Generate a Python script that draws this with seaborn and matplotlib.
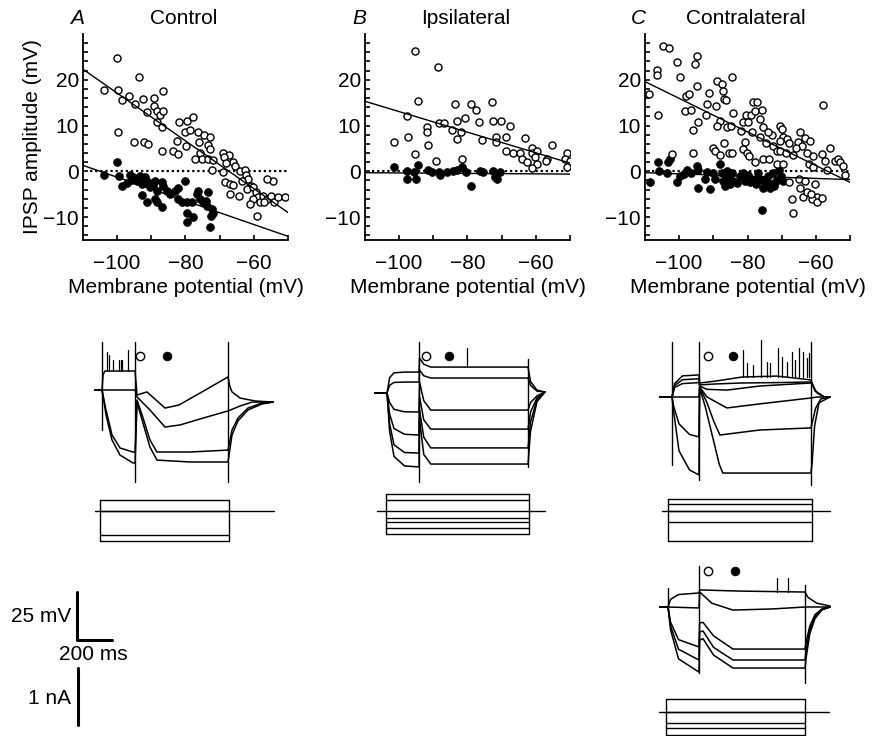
import numpy as np
import pandas as pd
import matplotlib
matplotlib.use("Agg")
import matplotlib.pyplot as plt
import seaborn as sns

# ---- scatter data: IPSP amplitude vs membrane potential ----
ctrl_open_x = [-100, -103.9, -99.8, -98.6, -96.5, -93.6, -94.8, -92.4, -91.3, -89.2, -89.2, -88.4, -87.5,
               -86.6, -86.6, -88.4, -86.9, -99.8, -95.1, -92.2, -91.0, -86.9, -81.9, -79.6, -77.8, -80.2,
               -78.7, -82.5, -79.9, -83.7, -82.2, -76.4, -74.6, -72.9, -76.1, -73.4, -72.9, -75.8, -75.2,
               -77.2, -73.4, -72.0, -72.3, -69.1, -67.3, -68.8, -66.1, -68.2, -65.5, -64.1, -62.6, -69.1,
               -68.5, -67.0, -66.1, -67.0, -64.4, -62.3, -61.7, -60.9, -63.5, -62.0, -60.3, -59.4, -58.8,
               -60.3, -58.2, -61.2, -57.4, -56.2, -55.0, -54.2, -54.5, -56.2, -53.0, -50.9, -59.1, -57.0]
ctrl_open_y = [24.7, 17.7, 17.7, 15.5, 16.4, 20.5, 14.8, 15.9, 12.9, 16.1, 14.2, 13.1, 12.4,
               17.5, 13.1, 10.7, 9.6, 8.5, 6.3, 6.3, 5.9, 4.4, 10.7, 10.9, 11.8, 8.5,
               9.0, 6.6, 5.5, 4.4, 3.7, 8.5, 7.9, 7.6, 6.3, 5.7, 4.8, 3.9, 2.8,
               2.8, 2.6, 2.4, 0.2, 3.9, 3.5, 3.1, 2.0, 1.8, 1.1, 0.0, 0.4, -0.2,
               -2.4, -2.8, -3.0, -5.0, -5.4, -0.7, -1.7, -3.2, -2.1, -3.9, -3.5, -4.6, -5.7,
               -6.1, -6.8, -7.2, -5.4, -6.1, -5.4, -6.6, -2.1, -1.6, -5.7, -5.7, -9.8, -6.6]
ctrl_fill_x = [-103.9, -100, -99.5, -98.6, -96.3, -95.4, -94.2, -93.3, -91.9, -92.7, -91.0, -92.7, -91.3,
               -90.4, -88.9, -88.4, -86.9, -86.6, -88.9, -88.4, -86.9, -85.4, -83.1, -82.2, -80.2, -82.2,
               -81.0, -79.6, -78.1, -79.6, -79.6, -77.8, -76.4, -76.7, -75.8, -74.9, -73.7, -73.4, -72.3,
               -72.0, -72.9, -74.0, -84.5, -95.7, -97.0, -89.5, -72.5]
ctrl_fill_y = [-0.7, 2.0, -1.1, -3.3, -0.9, -1.3, -2.2, -1.1, -1.3, -2.8, -2.4, -5.2, -6.8,
               -3.5, -2.2, -4.4, -2.4, -3.1, -6.1, -6.8, -7.9, -4.4, -4.4, -3.7, -2.2, -6.1,
               -6.8, -6.8, -6.8, -9.2, -11.1, -10.0, -4.4, -5.0, -6.1, -6.8, -7.6, -4.6, -8.3,
               -9.0, -12.2, -6.5, -5.0, -1.8, -2.5, -3.0, -9.8]

ipsi_open_x = [-95.4, -88.7, -94.5, -97.7, -97.4, -101.5, -95.4, -91.9, -91.9, -91.6, -89.2, -88.4, -86.9,
               -84.6, -83.7, -83.1, -83.1, -81.9, -81.6, -80.8, -79.0, -77.5, -76.7, -75.8, -72.9, -72.6,
               -70.2, -71.7, -71.7, -68.8, -67.6, -68.8, -66.7, -64.7, -63.2, -64.1, -62.6, -61.2, -61.2,
               -59.7, -60.3, -59.7, -61.2, -56.8, -57.1, -55.3, -50.9, -51.5, -50.1, -50.9]
ipsi_open_y = [26.2, 22.7, 15.3, 12.0, 7.6, 6.5, 3.7, 9.6, 8.7, 5.7, 2.2, 10.5, 10.5,
               9.0, 14.6, 11.1, 7.0, 8.7, 2.8, 11.6, 14.8, 13.5, 10.7, 6.8, 15.1, 10.9,
               11.1, 7.4, 6.3, 7.6, 9.8, 4.4, 4.1, 3.9, 7.2, 2.8, 2.0, 5.2, 3.9,
               4.4, 3.1, 1.5, 0.7, 2.8, 2.2, 5.7, 4.1, 2.6, 2.2, 0.9]
ipsi_fill_x = [-101.5, -97.7, -97.7, -95.1, -94.5, -95.7, -91.6, -90.4, -88.4, -88.1, -86.0, -84.3,
               -83.1, -81.6, -80.5, -79.0, -76.4, -75.5, -72.6, -71.9, -71.4, -70.5]
ipsi_fill_y = [0.9, 0.0, -1.7, -1.7, 1.3, -0.2, 0.4, -0.2, -0.2, -0.9, -0.2, 0.0,
               0.4, 0.9, -0.2, -3.3, 0.0, -0.2, 0.0, -1.3, -1.7, -0.2]

contra_open_x = [-108.8, -106.5, -106.5, -106.2, -104.7, -103.0, -100.6, -99.8, -102.1, -98.0, -97.1, -98.3,
                 -96.5, -95.4, -94.8, -94.8, -96.0, -94.5, -96.0, -91.9, -92.2, -91.3, -88.9, -87.5,
                 -87.2, -89.2, -86.9, -86.2, -88.1, -88.9, -90.1, -89.5, -88.1, -86.9, -86.0, -84.9,
                 -84.6, -84.3, -85.4, -84.6, -81.3, -80.8, -80.5, -81.3, -79.9, -79.0, -78.4, -77.3,
                 -77.8, -78.7, -80.2, -79.6, -77.8, -76.4, -75.8, -75.5, -76.4, -75.5, -73.7, -72.9,
                 -74.0, -72.6, -71.4, -71.4, -70.5, -70.0, -69.6, -68.5, -70.5, -70.5, -68.8, -69.6,
                 -67.9, -66.7, -67.9, -67.0, -66.7, -65.3, -64.7, -64.1, -65.0, -64.7, -63.8, -63.2,
                 -63.2, -61.8, -62.6, -62.0, -60.9, -60.3, -59.7, -61.2, -59.7, -58.2, -58.0, -58.2,
                 -57.4, -55.9, -56.8, -54.4, -53.6, -53.0, -52.1, -51.5, -65.8, -60.9, -62.5, -61.5,
                 -82.0, -74.5]
contra_open_y = [17.0, 22.1, 21.0, 12.2, 27.3, 26.9, 23.8, 20.7, 3.7, 16.4, 17.0, 13.1,
                 13.5, 23.4, 25.1, 18.6, 9.0, 10.7, 4.1, 14.6, 12.4, 17.2, 19.7, 19.0,
                 17.5, 14.2, 15.7, 15.5, 11.1, 9.8, 5.2, 4.4, 3.5, 6.1, 9.6, 9.8,
                 20.7, 12.7, 3.9, 3.9, 4.8, 6.3, 12.4, 10.7, 10.7, 12.4, 15.1, 15.1,
                 13.1, 8.5, 4.1, 3.3, 2.0, 11.4, 13.5, 9.6, 7.6, 2.8, 2.8, 7.9,
                 8.5, 5.5, 4.4, 1.7, 9.8, 9.2, 7.6, 7.0, 6.6, 4.4, 3.9, 1.7,
                 6.1, 3.5, -2.4, -6.1, -9.0, 6.3, 8.7, 5.5, -1.7, -3.7, -5.5, -2.2,
                 7.2, 6.6, 3.9, 1.5, 3.3, -2.8, -5.5, -6.1, -6.6, -5.9, 14.4, 3.7,
                 2.2, 5.2, 0.4, 2.2, 2.8, 2.0, 1.1, -0.7, 5.2, 0.9, -4.5, -5.0,
                 8.8, 6.2]
contra_fill_x = [-108.5, -106.2, -106.0, -103.3, -102.7, -103.5, -100.6, -99.8, -97.7, -96.4, -94.8, -94.5,
                 -94.5, -91.9, -92.5, -90.0, -89.5, -88.1, -87.6, -87.1, -86.1, -85.6, -85.1, -84.4,
                 -84.2, -82.2, -81.3, -80.8, -79.8, -79.3, -78.4, -77.4, -76.9, -75.9, -75.5, -74.5,
                 -74.0, -73.5, -72.6, -72.1, -71.6, -70.8, -70.2, -69.5, -75.8, -73.4, -90.9, -98.5,
                 -83.0, -86.5, -77.0]
contra_fill_y = [-2.4, 2.0, 0.0, 2.0, 2.6, -0.3, -2.4, -1.1, 0.4, -0.3, 1.1, 0.4,
                 -3.7, -0.2, -1.7, -0.3, -1.7, 1.5, -0.3, -2.1, 0.1, -1.4, -2.8, -0.3,
                 -2.1, -1.1, -0.3, -2.1, -0.7, -2.4, -1.8, -2.8, -0.3, -1.8, -3.6, -2.1,
                 -1.0, -2.8, -0.3, -3.2, -2.1, 0.4, -1.0, -2.1, -8.5, -3.7, -3.8, -0.5,
                 -2.5, -3.2, -1.5]

# regression lines, values at the two ends of the potential range
fit_x = [-110, -50]
ctrl_fit_open = [22.3, -9.0]
ctrl_fit_fill = [1.3, -14.2]
ipsi_fit_open = [15.3, 1.8]
ipsi_fit_fill = [-0.3, -0.6]
contra_fit_open = [19.6, -2.4]
contra_fit_fill = [-0.3, -1.8]

# ---- voltage traces (ms, mV relative to rest) ----
trA1_t = [-40, 0, 6, 17, 177, 189, 200, 257, 360, 440, 560, 720, 730, 743, 789, 874, 977]
trA1_v = [0, 0, 8.0, 9.9, 9.9, 9.9, -2.6, -1.0, -9.4, -7.8, -1.6, 6.8, 2.0, -1.0, -4.2, -5.7, -6.3]
trA2_t = [-40, 0, 189, 200, 274, 360, 446, 560, 720, 790, 857, 977]
trA2_v = [0, 0, 0, -3.6, -10.4, -19.3, -18.2, -15.1, -10.9, -8.3, -6.3, -6.3]
trA3_t = [-40, 0, 23, 57, 103, 177, 189, 200, 229, 274, 314, 503, 720, 743, 777, 834, 914, 977]
trA3_v = [0, 0, -10.4, -23.4, -30.2, -32.3, -32.3, -5.2, -13.0, -26.0, -32.3, -32.3, -31.3, -20.8, -14.6, -9.4, -6.8, -6.3]
trA4_t = trA3_t
trA4_v = [0, 0, -13, -26, -33.9, -38, -38, -6.3, -15.6, -29.7, -36.5, -37.5, -37.5, -23.4, -16.1, -10.4, -7.3, -6.3]

trB_t = [-69, 0, 15, 40, 100, 183, 186, 210, 250, 806, 820, 857, 903]
trB1_v = [0, 0, 8, 10.5, 10.9, 10.9, 18.2, 15, 13.5, 13.5, 6, 1.5, 0.5]
trB2_v = [0, 0, 4, 5.5, 5.7, 5.7, 12, 9, 7.8, 7.8, 4, 1, 0.5]
trB3_v = [0, 0, -5, -8.5, -9.8, -9.9, 5.7, -4, -8.9, -8.9, -5, -1.5, 0.5]
trB4_v = [0, 0, -11, -18.5, -21.5, -21.9, -2, -14, -18.8, -18.8, -10, -2.5, 0.5]
trB5_v = [0, 0, -16, -27, -31, -31.3, -8.9, -23, -28.6, -28.6, -15, -3.5, 0.5]
trB6_v = [0, 0, -20, -33, -38, -38.5, -14, -32, -37, -37, -20, -4.5, 0.5]

trC1_t = [-69, 0, 15, 60, 154, 158, 250, 400, 600, 794, 820, 870, 903]
trC1_v = [0, 0, 7, 11, 11.5, 7.3, 8.3, 10.4, 10.9, 8.9, 3, 0, 0]
trC2_t = trC1_t
trC2_v = [0, 0, 6, 9, 9.5, 6.3, 6.8, 7.3, 7.5, 7.8, 3, 0, 0]
trC3_t = [-69, 0, 15, 60, 154, 158, 200, 314, 500, 794, 830, 870, 903]
trC3_v = [0, 0, 5, 7, 7.5, 5.7, 4, 3.6, 5.7, 7.3, 2, 0, 0]
trC4_t = [-69, 0, 154, 158, 200, 314, 500, 794, 830, 903]
trC4_v = [0, 0, 0, 5.2, 0, -5.7, -3.6, -0.5, 0, 0]
trC5_t = [-69, 0, 10, 40, 100, 154, 158, 200, 240, 274, 500, 794, 800, 820, 850, 903]
trC5_v = [0, 0, -5, -14, -19.5, -20.8, 5.2, -3, -13, -19.8, -17.2, -16.1, -14, -6, -1, 0]
trC6_t = [-69, 0, 10, 40, 100, 154, 158, 190, 230, 270, 290, 794, 800, 815, 840, 903]
trC6_v = [0, 0, -8, -28, -38, -40.6, 4.7, -5, -20, -35, -39.6, -39.6, -35, -15, -3, 0]

trD1_t = [-46, 0, 15, 60, 177, 181, 400, 783, 800, 850, 926]
trD1_v = [0, 0, 4, 6.5, 7.3, 8.9, 8.3, 7.8, 5, 2, 0.5]
trD2_t = [-46, 0, 177, 181, 250, 371, 600, 783, 926]
trD2_v = [0, 0, -0.5, 7.8, 2, -1.6, -1, 0, 0]
trD_t = [-46, 0, 15, 60, 177, 181, 200, 260, 371, 783, 790, 810, 840, 880, 926]
trD3_v = [0, 0, -8, -17, -20.8, -8.3, -8, -15, -21.9, -21.9, -18, -10, -4, -1, 0]
trD4_v = [0, 0, -10, -22, -27.6, -13, -12.5, -21, -27.6, -27.6, -22, -12, -5, -1.2, 0]
trD5_v = [0, 0, -12, -27, -33.9, -17.2, -16.5, -25, -31.8, -31.8, -26, -14, -6, -1.5, 0]

# stimulus / step artefacts: time, top, bottom (mV)
artA_t, artA_top, artA_bot = [0, 189, 720], [25, 25, 25], [-20.8, -47.9, -47.9]
artB_t, artB_top, artB_bot = [183, 806], [26.6, 17.7], [-46.4, -38.5]
artC_t, artC_top, artC_bot = [0, 154, 794], [28.6, 28.6, 28.6], [-35.4, -43.2, -45.8]
artD_t, artD_top, artD_bot = [0, 177, 783], [9.9, 21.4, 11.5], [-1.6, -34.4, -39.6]

# action potentials: time, peak (mV) and the level they rise from
spkA_t = [29, 40, 63, 97, 109, 114, 149]
spkA_peak = [19.8, 18.2, 15.6, 15.6, 15.6, 15.6, 20.8]
spkA_base = 9.9
spkB_t, spkB_peak, spkB_base = [457], [23.4], 13.5
spkC_t = [406, 429, 463, 509, 543, 560, 606, 629, 657, 686, 703, 726, 749, 771, 783]
spkC_peak = [24.5, 17.7, 16.7, 29.7, 18.2, 17.7, 25.5, 20.8, 18.2, 23.4, 19.3, 25.5, 23.4, 20.3, 22.9]
spkC_base = 10.5
spkD_t, spkD_peak, spkD_base = [623, 686], [15.1, 15.1], 7.8

# open / filled marks above traces: times and level
markA_t, markA_v = [217, 371], 17.7
markB_t, markB_v = [223, 354], 19.3
markC_t, markC_v = [206, 349], 21.4
markD_t, markD_v = [229, 383], 18.8

# current steps (nA): step on/off, holding-line span, levels
curA_on, curA_off, curA_span, curA_lev = -10, 725, [-40, 983], [0.19, 0.0, -0.42, -0.53]
curB_on, curB_off, curB_span, curB_lev = -6, 811, [-57, 903], [0.30, 0.19, -0.12, -0.19, -0.30, -0.40]
curC_on, curC_off, curC_span, curC_lev = -23, 800, [-57, 903], [0.21, 0.12, 0.0, -0.19, -0.53]
curD_on, curD_off, curD_span, curD_lev = -11, 783, [-51, 920], [0.23, 0.0, -0.19, -0.28, -0.40]

# ---------------------------------------------------------------
W, H = 879, 736
PX_MS, PX_MV, PX_NA = 0.175, 1.92, 57.0

sns.set_style("ticks")
plt.rcParams["font.family"] = ["Liberation Sans", "DejaVu Sans"]
plt.rcParams["font.size"] = 15
plt.rcParams["axes.linewidth"] = 1.3
for key in ("text.color", "axes.labelcolor", "xtick.color", "ytick.color", "axes.edgecolor"):
    plt.rcParams[key] = "black"

fig = plt.figure(figsize=(W / 100, H / 100), dpi=100)


def px_rect(left, top, right, bottom):
    return [left / W, 1 - bottom / H, (right - left) / W, (bottom - top) / H]


def line(ax, x, y, **kw):
    kw.setdefault("color", "black")
    kw.setdefault("lw", 1.0)
    sns.lineplot(x=x, y=y, ax=ax, sort=False, estimator=None, **kw)


# ---- top row: scatter plots ----
top_panels = [
    ("A", "Control", 83, ctrl_open_x, ctrl_open_y, ctrl_fill_x, ctrl_fill_y, ctrl_fit_open, ctrl_fit_fill),
    ("B", "Ipsilateral", 365, ipsi_open_x, ipsi_open_y, ipsi_fill_x, ipsi_fill_y, ipsi_fit_open, ipsi_fit_fill),
    ("C", "Contralateral", 645, contra_open_x, contra_open_y, contra_fill_x, contra_fill_y,
     contra_fit_open, contra_fit_fill),
]
for letter, title, left, ox, oy, fx, fy, fit_o, fit_f in top_panels:
    ax = fig.add_axes(px_rect(left, 34, left + 205, 240))
    line(ax, [-108, -50], [0, 0], lw=1.6, linestyle=(0, (1, 1.3)))
    sns.scatterplot(x=fx, y=fy, ax=ax, s=32, color="black", edgecolor="black", linewidth=0.5, zorder=3)
    sns.scatterplot(x=ox, y=oy, ax=ax, s=26, color="white", edgecolor="black", linewidth=1.0, zorder=4)
    line(ax, fit_x, fit_o, zorder=5)
    line(ax, fit_x, fit_f, zorder=5)
    ax.set_xlim(-110, -50)
    ax.set_ylim(-15, 30)
    ax.set_xticks([-100, -80, -60])
    ax.set_xticks([-90, -70, -50], minor=True)
    ax.set_yticks([-10, 0, 10, 20])
    ax.set_yticks([v for v in range(-14, 31, 2) if v % 10 != 0], minor=True)
    ax.tick_params(axis="x", which="both", direction="in", length=3.5, width=1.2, pad=10, labelsize=15)
    ax.tick_params(axis="y", which="both", direction="in", length=3.5, width=1.2, pad=3, labelsize=15)
    sns.despine(ax=ax)
    ax.set_xlabel("Membrane potential (mV)", fontsize=15, labelpad=4)
    if letter == "A":
        ax.set_ylabel("IPSP amplitude (mV)", fontsize=15, labelpad=1)
    ax.text(-0.03, 1.075, letter, transform=ax.transAxes, ha="center", va="center",
            fontsize=15, fontstyle="italic")
    ax.text(0.49, 1.075, title, transform=ax.transAxes, ha="center", va="center", fontsize=15)


# ---- lower rows: voltage traces and current steps ----
def trace_axes(left, top, right, bottom, x0, y0, per_unit):
    ax = fig.add_axes(px_rect(left, top, right, bottom))
    ax.set_xlim((left - x0) / PX_MS, (right - x0) / PX_MS)
    ax.set_ylim((y0 - bottom) / per_unit, (y0 - top) / per_unit)
    ax.axis("off")
    return ax


def draw_traces(ax, traces, art, spikes, marks):
    for t, v in traces:
        line(ax, t, v, lw=1.1)
    for t, top, bot in zip(*art):
        line(ax, [t, t], [bot, top], lw=1.0)
    spk_t, spk_peak, base = spikes
    for t, p in zip(spk_t, spk_peak):
        line(ax, [t, t], [base, p], lw=0.9)
    mt, mv = marks
    sns.scatterplot(x=[mt[0]], y=[mv], ax=ax, s=36, color="white", edgecolor="black", linewidth=1.0)
    sns.scatterplot(x=[mt[1]], y=[mv], ax=ax, s=40, color="black", edgecolor="black", linewidth=0.5)


def draw_current(ax, on, off, span, levels):
    line(ax, span, [0, 0], lw=1.0)
    for lev in levels:
        line(ax, [on, off], [lev, lev], lw=1.0)
    for t in (on, off):
        line(ax, [t, t], [min(levels), max(levels)], lw=1.0)


axA = trace_axes(88, 335, 285, 490, 102, 390, PX_MV)
draw_traces(axA, [(trA1_t, trA1_v), (trA2_t, trA2_v), (trA3_t, trA3_v), (trA4_t, trA4_v)],
            (artA_t, artA_top, artA_bot), (spkA_t, spkA_peak, spkA_base), (markA_t, markA_v))
draw_current(trace_axes(88, 490, 285, 548, 102, 511, PX_NA), curA_on, curA_off, curA_span, curA_lev)

axB = trace_axes(370, 335, 555, 490, 387, 393, PX_MV)
draw_traces(axB, [(trB_t, v) for v in (trB1_v, trB2_v, trB3_v, trB4_v, trB5_v, trB6_v)],
            (artB_t, artB_top, artB_bot), (spkB_t, spkB_peak, spkB_base), (markB_t, markB_v))
draw_current(trace_axes(370, 488, 555, 540, 387, 511, PX_NA), curB_on, curB_off, curB_span, curB_lev)

axC = trace_axes(650, 335, 840, 495, 672, 397, PX_MV)
draw_traces(axC, [(trC1_t, trC1_v), (trC2_t, trC2_v), (trC3_t, trC3_v), (trC4_t, trC4_v),
                  (trC5_t, trC5_v), (trC6_t, trC6_v)],
            (artC_t, artC_top, artC_bot), (spkC_t, spkC_peak, spkC_base), (markC_t, markC_v))
draw_current(trace_axes(650, 492, 840, 548, 672, 511, PX_NA), curC_on, curC_off, curC_span, curC_lev)

axD = trace_axes(650, 555, 840, 690, 668, 607, PX_MV)
draw_traces(axD, [(trD1_t, trD1_v), (trD2_t, trD2_v), (trD_t, trD3_v), (trD_t, trD4_v), (trD_t, trD5_v)],
            (artD_t, artD_top, artD_bot), (spkD_t, spkD_peak, spkD_base), (markD_t, markD_v))
draw_current(trace_axes(650, 692, 840, 736, 668, 712, PX_NA), curD_on, curD_off, curD_span, curD_lev)

# ---- scale bars ----
axS = trace_axes(60, 580, 140, 660, 77, 640, PX_MV)
line(axS, [0, 0, 200], [25, 0, 0], lw=2.2)
axI = trace_axes(60, 660, 140, 735, 78, 725, PX_NA)
line(axI, [0, 0], [0, 1], lw=2.2)
fig.text(71 / W, 1 - 616 / H, "25 mV", ha="right", va="center", fontsize=15)
fig.text(93 / W, 1 - 655 / H, "200 ms", ha="center", va="center", fontsize=15)
fig.text(71 / W, 1 - 698 / H, "1 nA", ha="right", va="center", fontsize=15)

fig.savefig("out.png", dpi=100)
